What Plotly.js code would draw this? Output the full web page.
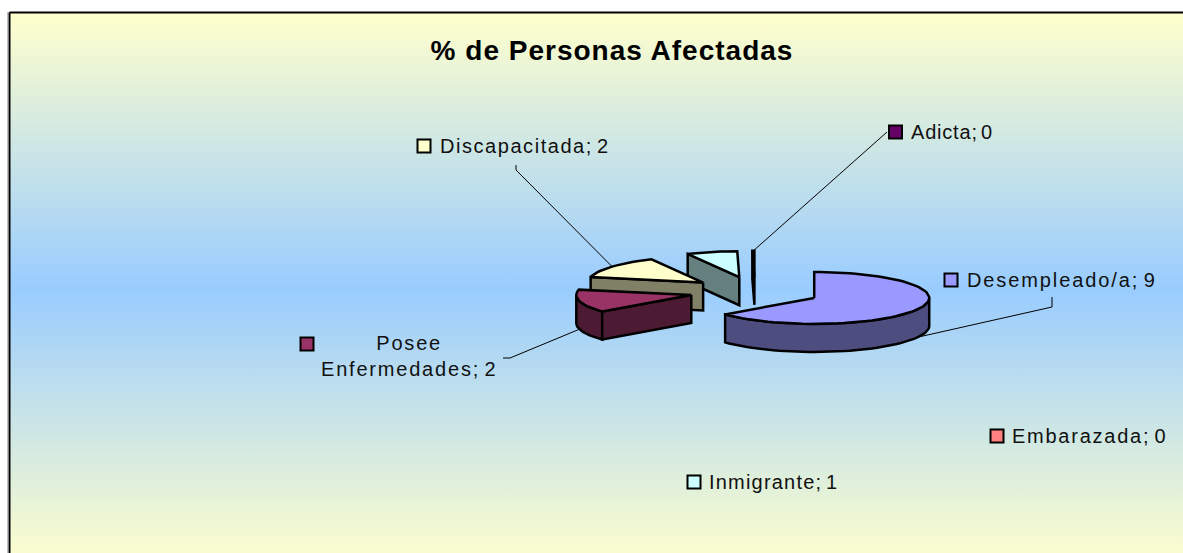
<!DOCTYPE html>
<html>
<head>
<meta charset="utf-8">
<script src="https://cdn.plot.ly/plotly-3.0.1.min.js"></script>
<style>
html,body{margin:0;padding:0;background:#fff;}
#chart{width:1183px;height:553px;}
#chart .annotation-text{word-spacing:-3px;}
#chart .annotation[data-index="0"] .annotation-text{letter-spacing:1.9px;}
#chart .annotation[data-index="1"] .annotation-text{letter-spacing:1.75px;}
#chart .annotation[data-index="2"] .annotation-text{letter-spacing:1.8px;}
#chart .annotation[data-index="3"] .annotation-text{letter-spacing:1.55px;}
#chart .annotation[data-index="4"] .annotation-text{letter-spacing:1.2px;}
#chart .annotation[data-index="5"] .annotation-text{letter-spacing:0.8px;}
#chart .gtitle{letter-spacing:1px;}
</style>
</head>
<body>
<div id="chart"></div>
<script>
// Data (clockwise from 12 o'clock, as in the picture)
const categories = ["Desempleado/a","Embarazada","Posee Enfermedades","Discapacitada","Inmigrante","Adicta"];
const values = [9, 0, 2, 2, 1, 0.04];
const shownValues = [9, 0, 2, 2, 1, 0];
const topColors = ["#9999FF","#FF8080","#993366","#FFFFCC","#CCFFFF","#660066"];
const sideColors = ["#4D4D80","#804040","#4D1A33","#808066","#668080","#330033"];
const chartTitle = "% de Personas Afectadas";

// Geometry of the tilted pie, in axis units (the axes map 1:1 onto pixels)
const W = 1183, H = 553;
const pie = {cx:755, cy:291.6, rx:115, ry:26, depth:28, pull:0.57};
const total = values.reduce((a,b)=>a+b,0);
const rad = d => d*Math.PI/180;
const traces = [];

// Background panel with vertical gradient and frame
traces.push({
  x:[9.5,1195,1195,9.5,9.5], y:[12.5,12.5,565,565,12.5],
  mode:'lines', fill:'toself', line:{color:'#000',width:2},
  fillgradient:{type:'vertical',colorscale:[[0,'#FFFFCC'],[0.5,'#99CCFF'],[1,'#FFFFCC']]},
  hoverinfo:'skip', showlegend:false
});
traces.push({x:[8,8],y:[12,553],mode:'lines',line:{color:'#808080',width:1},hoverinfo:'skip',showlegend:false});

// Slice geometry from the values
let acc = 0;
const slices = values.map((v,i)=>{
  const a0 = acc/total*360; acc += v; const a1 = acc/total*360;
  const mid = (a0+a1)/2;
  const ox = pie.cx + pie.pull*pie.rx*Math.sin(rad(mid));
  const oy = pie.cy - pie.pull*pie.ry*Math.cos(rad(mid));
  return {i,a0,a1,mid,ox,oy,v};
});
const pt = (s,a,dz=0)=>[s.ox+pie.rx*Math.sin(rad(a)), s.oy-pie.ry*Math.cos(rad(a))+dz];
const arc = (s,a,b,dz=0)=>{
  const out=[]; const n=Math.max(1,Math.ceil(Math.abs(b-a)/3));
  for(let k=0;k<=n;k++) out.push(pt(s,a+(b-a)*k/n,dz));
  return out;
};
function poly(points,fill){
  const closed = points.concat([points[0]]);
  traces.push({x:closed.map(p=>p[0]),y:closed.map(p=>p[1]),mode:'lines',fill:'toself',
    fillcolor:fill,line:{color:'#000',width:2.5,shape:'linear'},hoverinfo:'skip',showlegend:false});
}
function drawSlice(s){
  if(s.v<=0) return;
  const top=topColors[s.i], side=sideColors[s.i];
  const lo=Math.max(s.a0,90), hi=Math.min(s.a1,270);
  if(hi>lo) poly(arc(s,lo,hi).concat(arc(s,hi,lo,pie.depth)),side);
  if(s.a0>=180 && s.a0<360){
    const p=pt(s,s.a0);
    poly([[s.ox,s.oy],p,[p[0],p[1]+pie.depth],[s.ox,s.oy+pie.depth]],side);
  }
  poly([[s.ox,s.oy]].concat(arc(s,s.a0,s.a1)),top);
}
// back to front
[4,5,3,2,0].forEach(i=>drawSlice(slices[i]));

// Leader lines start on the slice rim
function leader(i,knee,end,useDepth){
  const s=slices[i]; const p=pt(s,s.mid,useDepth?pie.depth:0);
  traces.push({x:[p[0],knee[0],end[0]],y:[p[1],knee[1],end[1]],mode:'lines',
    line:{color:'#000',width:1},hoverinfo:'skip',showlegend:false});
}
leader(5,[887,132],[887,132],false);
leader(3,[516,170],[516,165],false);
leader(2,[510,358],[503,358],true);
leader(0,[1052,307],[1052,297],true);

// Label keys and texts
const labelPos = [
  {key:[951,280], x:965, y:280, anchor:'left'},
  {key:[997,436], x:1010,y:436, anchor:'left'},
  {key:[307,344], x:409, y:356, anchor:'center'},
  {key:[424,146], x:438, y:146, anchor:'left'},
  {key:[694,482], x:707, y:482, anchor:'left'},
  {key:[895.5,132], x:909, y:132, anchor:'left'}
];
traces.push({
  x:labelPos.map(l=>l.key[0]), y:labelPos.map(l=>l.key[1]), mode:'markers',
  marker:{symbol:'square',size:13,color:topColors,line:{color:'#000',width:2}},
  hoverinfo:'skip',showlegend:false
});
const labelText = categories.map((c,i)=>{
  const t=c+"; "+shownValues[i];
  return c==="Posee Enfermedades" ? "Posee<br>Enfermedades; "+shownValues[i] : t;
});
const annotations = labelPos.map((l,i)=>({
  x:l.x,y:l.y,xref:'x',yref:'y',text:labelText[i],showarrow:false,
  xanchor:l.anchor,yanchor:'middle',align:l.anchor,
  font:{family:'"Liberation Sans",Arial,sans-serif',size:20,color:'#111'}
}));

const layout = {
  width:W,height:H,margin:{l:0,r:0,t:0,b:0},
  paper_bgcolor:'#fff',plot_bgcolor:'rgba(0,0,0,0)',showlegend:false,
  title:{text:'<b>'+chartTitle+'</b>',x:612/W,y:1-50/H,xanchor:'center',yanchor:'middle',
    font:{family:'"Liberation Sans",Arial,sans-serif',size:28,color:'#000'}},
  xaxis:{range:[0,W],visible:false,fixedrange:true},
  yaxis:{range:[H,0],visible:false,fixedrange:true},
  annotations
};
Plotly.newPlot('chart',traces,layout,{displayModeBar:false,staticPlot:true});
</script>
</body>
</html>
